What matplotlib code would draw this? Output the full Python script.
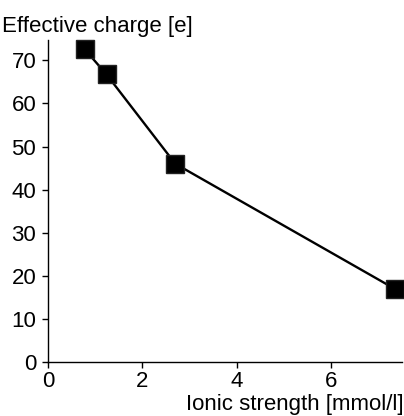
import matplotlib.pyplot as plt

# Messwerte
ionic_strength = [0.78, 1.24, 2.70, 7.36]
effective_charge = [72.5, 66.7, 46.0, 17.0]

x_ticks = [0, 2, 4, 6]
y_ticks = [0, 10, 20, 30, 40, 50, 60, 70]

plt.rcParams['font.family'] = ['Liberation Sans', 'DejaVu Sans']

fig = plt.figure(figsize=(4.04, 4.16), dpi=100)
ax = fig.add_axes([0.119, 0.129, 0.875, 0.775])

ax.plot(ionic_strength, effective_charge, color="black", linewidth=1.7,
        marker="s", markersize=13, markerfacecolor="black", markeredgecolor="#222222",
        clip_on=False, zorder=3)

ax.set_xlim(0, 7.5)
ax.set_ylim(0, 74.7)
ax.set_xticks(x_ticks)
ax.set_yticks(y_ticks)
ax.tick_params(direction="out", length=4.5, width=1, labelsize=16)
ax.tick_params(axis="y", pad=4)
ax.tick_params(axis="x", pad=2)

for side in ["top", "right"]:
    ax.spines[side].set_visible(False)
for side in ["left", "bottom"]:
    ax.spines[side].set_linewidth(1)

fig.text(0.005, 0.924, "Effective charge [e]", fontsize=16, ha="left", va="baseline")
fig.text(0.999, 0.015, "Ionic strength [mmol/l]", fontsize=16, ha="right", va="baseline")

fig.savefig("out.png", dpi=100)
